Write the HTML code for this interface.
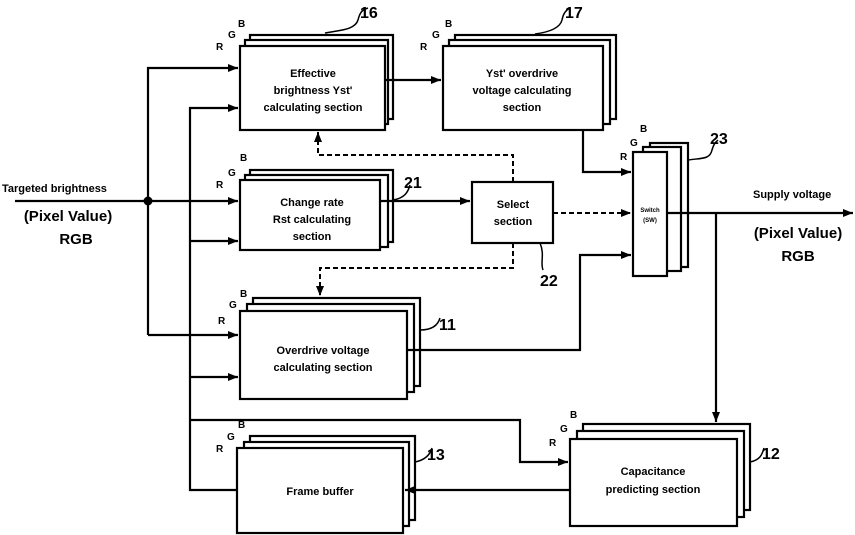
<!DOCTYPE html>
<html><head><meta charset="utf-8"><style>
html,body{margin:0;padding:0;background:#fff}
svg{display:block}
text{font-family:"Liberation Sans",sans-serif;font-weight:bold;fill:#000}
</style></head><body>
<svg width="855" height="535" viewBox="0 0 855 535" xmlns="http://www.w3.org/2000/svg">
<defs>
<marker id="a" markerWidth="10" markerHeight="8" refX="10" refY="4" orient="auto" markerUnits="userSpaceOnUse"><path d="M0,0 L10,4 L0,8 z" fill="#000"/></marker>
</defs>
<g fill="#fff" stroke="#000" stroke-width="2.2">
<rect x="250" y="35" width="143" height="84"/><rect x="245" y="40" width="143" height="84"/><rect x="240" y="46" width="145" height="84"/>
<rect x="455" y="35" width="161" height="84"/><rect x="449" y="40" width="161" height="84"/><rect x="443" y="46" width="160" height="84"/>
<rect x="250" y="170" width="143" height="72"/><rect x="245" y="175" width="143" height="72"/><rect x="240" y="180" width="140" height="70"/>
<rect x="472" y="182" width="81" height="61"/>
<rect x="650" y="143" width="38" height="124"/><rect x="643" y="147" width="38" height="124"/><rect x="633" y="152" width="34" height="124"/>
<rect x="253" y="298" width="167" height="88"/><rect x="247" y="304" width="167" height="88"/><rect x="240" y="311" width="167" height="88"/>
<rect x="583" y="424" width="167" height="86"/><rect x="577" y="431" width="167" height="86"/><rect x="570" y="439" width="167" height="87"/>
<rect x="250" y="436" width="165" height="84"/><rect x="244" y="442" width="165" height="84"/><rect x="237" y="448" width="166" height="85"/>
</g>
<g fill="none" stroke="#000" stroke-width="2.2">
<path d="M15,201 H238" marker-end="url(#a)"/>
<path d="M148,335 V68 H238" marker-end="url(#a)"/>
<path d="M148,335 H238" marker-end="url(#a)"/>
<path d="M237,490 H190 V108 H238" marker-end="url(#a)"/>
<path d="M190,241 H238" marker-end="url(#a)"/>
<path d="M190,377 H238" marker-end="url(#a)"/>
<path d="M190,420 H520 V462 H568" marker-end="url(#a)"/>
<path d="M385,80 H441" marker-end="url(#a)"/>
<path d="M583,130 V172 H631" marker-end="url(#a)"/>
<path d="M380,201 H470" marker-end="url(#a)"/>
<path d="M407,350 H580 V255 H631" marker-end="url(#a)"/>
<path d="M667,213 H853" marker-end="url(#a)"/>
<path d="M716,213 V422" marker-end="url(#a)"/>
<path d="M570,490 H405" marker-end="url(#a)"/>
</g>
<g fill="none" stroke="#000" stroke-width="2" stroke-dasharray="5,3">
<path d="M513,182 V155 H318 V132" marker-end="url(#a)"/>
<path d="M513,243 V268 H320 V296" marker-end="url(#a)"/>
<path d="M553,213 H631" marker-end="url(#a)"/>
</g>
<circle cx="148" cy="201" r="4.5" fill="#000"/>
<g fill="none" stroke="#000" stroke-width="1.5">
<path d="M325,33 C340,30 355,30 358,20 C360,12 362,10 368,8"/>
<path d="M535,34 C550,32 560,28 562,20 C563,14 566,10 570,8"/>
<path d="M393,200 C405,198 408,192 410,185"/>
<path d="M540,243 C545,255 540,262 543,270"/>
<path d="M688,160 C700,158 710,160 712,150 C714,143 716,142 718,140"/>
<path d="M420,330 C432,330 438,325 440,318"/>
<path d="M415,462 C425,460 430,455 432,448"/>
<path d="M750,462 C760,460 762,455 764,448"/>
</g>
<g font-size="11" text-anchor="middle">
<text x="313" y="77">Effective</text>
<text x="313" y="94">brightness Yst'</text>
<text x="313" y="111">calculating section</text>
<text x="522" y="77">Yst'  overdrive</text>
<text x="522" y="94">voltage calculating</text>
<text x="522" y="111">section</text>
<text x="312" y="206">Change rate</text>
<text x="312" y="223">Rst calculating</text>
<text x="312" y="240">section</text>
<text x="513" y="208">Select</text>
<text x="513" y="225">section</text>
<text x="323" y="354">Overdrive voltage</text>
<text x="323" y="371">calculating section</text>
<text x="653" y="475">Capacitance</text>
<text x="653" y="493">predicting section</text>
<text x="320" y="495">Frame buffer</text>
<text x="650" y="212" font-size="6">Switch</text>
<text x="650" y="222" font-size="6">(SW)</text>
</g>
<g font-size="11">
<text x="2" y="192">Targeted brightness</text>
<text x="753" y="198">Supply voltage</text>
</g>
<g font-size="15" text-anchor="middle">
<text x="68" y="221">(Pixel Value)</text>
<text x="76" y="244">RGB</text>
<text x="798" y="238">(Pixel Value)</text>
<text x="798" y="261">RGB</text>
</g>
<g font-size="16">
<text x="360" y="18">16</text><text x="565" y="18">17</text><text x="404" y="188">21</text>
<text x="540" y="286">22</text><text x="710" y="144">23</text><text x="439" y="330">11</text>
<text x="427" y="460">13</text><text x="762" y="459">12</text>
</g>
<g font-size="10">
<text x="216" y="50">R</text><text x="228" y="38">G</text><text x="238" y="27">B</text>
<text x="420" y="50">R</text><text x="432" y="38">G</text><text x="445" y="27">B</text>
<text x="216" y="188">R</text><text x="228" y="176">G</text><text x="240" y="161">B</text>
<text x="620" y="160">R</text><text x="630" y="146">G</text><text x="640" y="132">B</text>
<text x="218" y="324">R</text><text x="229" y="308">G</text><text x="240" y="297">B</text>
<text x="549" y="446">R</text><text x="560" y="432">G</text><text x="570" y="418">B</text>
<text x="216" y="452">R</text><text x="227" y="440">G</text><text x="238" y="428">B</text>
</g>
</svg>
</body></html>
